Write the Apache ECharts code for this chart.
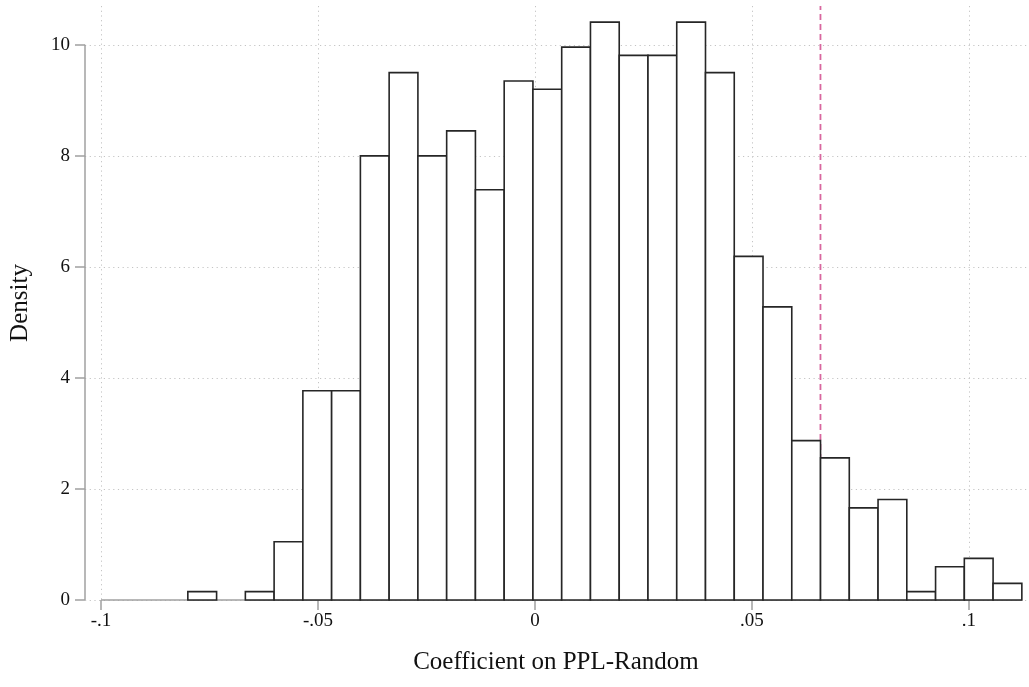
<!DOCTYPE html>
<html>
<head>
<meta charset="utf-8">
<script src="https://cdn.jsdelivr.net/npm/echarts@6/dist/echarts.min.js"></script>
<style>html,body{margin:0;padding:0;background:#fff}#c{width:1029px;height:687px}</style>
</head>
<body>
<div id="c"></div>
<script>
// Histogram definition
const binStart = -0.0800;
const binWidth = 0.006628;
const densities = [0.15, 0, 0.15, 1.05, 3.77, 3.77, 8.0, 9.5, 8.0, 8.45, 7.39, 9.35, 9.2, 9.96, 10.41, 9.81, 9.81, 10.41, 9.5, 6.19, 5.28, 2.87, 2.56, 1.66, 1.81, 0.15, 0.6, 0.75, 0.3];
const refLineX = 0.0658;
const xTickValues = [-0.1, -0.05, 0, 0.05, 0.1];
const xTickLabels = ['-.1', '-.05', '0', '.05', '.1'];
const yTickValues = [0, 2, 4, 6, 8, 10];
const yTickLabels = ['0', '2', '4', '6', '8', '10'];
const xTitle = 'Coefficient on PPL-Random';
const yTitle = 'Density';

const X_MIN = -0.1037, X_MAX = 0.1134, Y_MAX = 10.7;

const binData = densities.map((d, i) => [binStart + i * binWidth, binStart + (i + 1) * binWidth, d]);
const dataMax = binStart + densities.length * binWidth;

const chart = echarts.init(document.getElementById('c'), null, {renderer: 'canvas'});
const font = 'Liberation Serif';
const gridStyle = {color: '#c4c4c4', width: 1, type: [1.2, 3.5]};

chart.setOption({
  animation: false,
  backgroundColor: '#fff',
  grid: {left: 85, right: 2, top: 6, bottom: 87, containLabel: false, outerBoundsMode: 'none'},
  xAxis: {
    type: 'value', min: X_MIN, max: X_MAX,
    name: xTitle, nameLocation: 'middle', nameGap: 50,
    nameTextStyle: {fontFamily: font, fontSize: 25, color: '#111'},
    axisLine: {show: false, onZero: false},
    axisTick: {show: true, length: 10, customValues: xTickValues, lineStyle: {color: '#a0a0a0', width: 1.5}},
    axisLabel: {customValues: xTickValues, margin: 12, fontFamily: font, fontSize: 19, color: '#111',
      formatter: v => { const i = xTickValues.findIndex(t => Math.abs(t - v) < 1e-9); return i >= 0 ? xTickLabels[i] : ''; }},
    splitLine: {show: true, lineStyle: gridStyle}
  },
  yAxis: {
    type: 'value', min: 0, max: Y_MAX,
    name: yTitle, nameLocation: 'middle', nameGap: 52, nameRotate: 90,
    nameTextStyle: {fontFamily: font, fontSize: 25, color: '#111'},
    axisLine: {show: false, onZero: false},
    axisTick: {show: true, length: 10, customValues: yTickValues, lineStyle: {color: '#a0a0a0', width: 1.5}},
    axisLabel: {customValues: yTickValues, margin: 15, fontFamily: font, fontSize: 19, color: '#111',
      formatter: v => { const i = yTickValues.findIndex(t => Math.abs(t - v) < 1e-9); return i >= 0 ? yTickLabels[i] : ''; }},
    splitLine: {show: true, lineStyle: gridStyle}
  },
  series: [
    {
      type: 'line', z: 1, clip: false, symbol: 'none', silent: true,
      data: [[X_MIN, 0], [X_MIN, yTickValues[yTickValues.length - 1]]],
      lineStyle: {color: '#a0a0a0', width: 1.5}
    },
    {
      type: 'line', z: 1, clip: false, symbol: 'none', silent: true,
      data: [[xTickValues[0], 0], [dataMax, 0]],
      lineStyle: {color: '#a0a0a0', width: 1.5}
    },
    {
      type: 'line', z: 1, symbol: 'none', silent: true,
      data: [[refLineX, 0], [refLineX, Y_MAX]],
      lineStyle: {color: '#d8679f', width: 1.8, type: [6, 4]}
    },
    {
      type: 'custom', z: 3, silent: true,
      data: binData,
      renderItem: function (params, api) {
        const h = api.value(2);
        if (!(h > 0)) return null;
        const p0 = api.coord([api.value(0), h]);
        const p1 = api.coord([api.value(1), 0]);
        return {
          type: 'rect',
          shape: {x: p0[0], y: p0[1], width: p1[0] - p0[0], height: p1[1] - p0[1]},
          style: {fill: '#ffffff', stroke: '#262626', lineWidth: 1.6}
        };
      }
    }
  ]
});
</script>
</body>
</html>
